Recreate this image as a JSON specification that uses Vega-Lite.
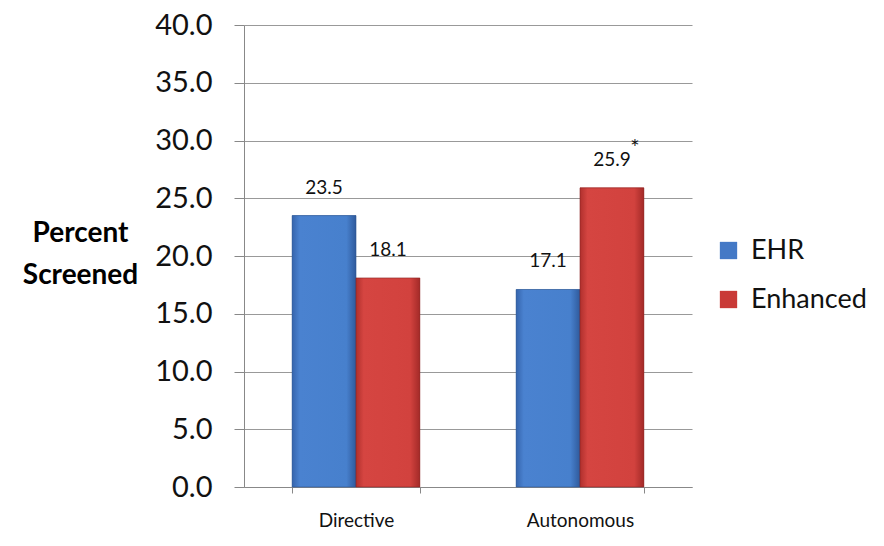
{
  "$schema": "https://vega.github.io/schema/vega-lite/v6.json",
  "autosize": {"type": "none"},
  "padding": {"left": 244, "top": 25, "right": 192, "bottom": 59},
  "width": 448,
  "height": 462,
  "background": "white",
  "config": {
    "font": "Lato",
    "view": {"stroke": null}
  },
  "data": {
    "values": [
      {"category": "Directive", "group": "EHR", "value": 23.5, "note": ""},
      {"category": "Directive", "group": "Enhanced", "value": 18.1, "note": ""},
      {"category": "Autonomous", "group": "EHR", "value": 17.1, "note": ""},
      {"category": "Autonomous", "group": "Enhanced", "value": 25.9, "note": "*"}
    ]
  },
  "encoding": {
    "x": {
      "field": "category",
      "type": "nominal",
      "sort": ["Directive", "Autonomous"],
      "scale": {"paddingInner": 0.43, "paddingOuter": 0.215},
      "axis": {
        "title": null,
        "labelAngle": 0,
        "labelFont": "Lato",
        "labelFontSize": 19,
        "labelColor": "#111",
        "labelPadding": 18,
        "tickBand": "extent",
        "tickSize": 6,
        "tickColor": "#888",
        "domainColor": "#888",
        "grid": false
      }
    },
    "xOffset": {"field": "group", "type": "nominal", "sort": ["EHR", "Enhanced"]},
    "y": {
      "field": "value",
      "type": "quantitative",
      "scale": {"domain": [0, 40], "nice": false},
      "axis": {
        "values": [0, 5, 10, 15, 20, 25, 30, 35, 40],
        "format": ".1f",
        "labelFont": "Lato",
        "labelFontSize": 29,
        "labelColor": "#111",
        "labelPadding": 22,
        "tickSize": 10,
        "tickColor": "#888",
        "domainColor": "#888",
        "gridColor": "#999",
        "grid": true,
        "title": ["Percent", "Screened"],
        "titleFont": "Lato",
        "titleFontSize": 28,
        "titleFontWeight": "bold",
        "titleColor": "#000",
        "titleAngle": 0,
        "titleAlign": "center",
        "titleBaseline": "middle",
        "titleLineHeight": 42,
        "titleX": -164,
        "titleY": 208
      }
    }
  },
  "layer": [
    {
      "mark": {"type": "bar"},
      "encoding": {
        "color": {
          "field": "group",
          "type": "nominal",
          "scale": {"domain": ["EHR", "Enhanced"], "range": ["#4479c6", "#c93a37"]},
          "legend": {
            "title": null,
            "orient": "none",
            "legendX": 471,
            "legendY": 212,
            "symbolType": "square",
            "symbolSize": 300,
            "symbolStrokeWidth": 0,
            "labelFont": "Lato",
            "labelFontSize": 27,
            "labelColor": "#111",
            "labelOffset": 9,
            "rowPadding": 21
          }
        }
      }
    },
    {
      "transform": [{"filter": "datum.group === 'EHR'"}],
      "mark": {
        "type": "bar",
        "stroke": "#2c5590",
        "strokeWidth": 0.6,
        "fill": {
          "x1": 0, "y1": 0, "x2": 1, "y2": 0,
          "gradient": "linear",
          "stops": [
            {"offset": 0, "color": "#3665ad"},
            {"offset": 0.12, "color": "#4a82d0"},
            {"offset": 0.85, "color": "#4780cd"},
            {"offset": 1, "color": "#2f5a9c"}
          ]
        }
      }
    },
    {
      "transform": [{"filter": "datum.group === 'Enhanced'"}],
      "mark": {
        "type": "bar",
        "stroke": "#8c2422",
        "strokeWidth": 0.6,
        "fill": {
          "x1": 0, "y1": 0, "x2": 1, "y2": 0,
          "gradient": "linear",
          "stops": [
            {"offset": 0, "color": "#b0302d"},
            {"offset": 0.12, "color": "#d54541"},
            {"offset": 0.85, "color": "#d2423e"},
            {"offset": 1, "color": "#a32a28"}
          ]
        }
      }
    },
    {
      "mark": {"type": "text", "font": "Lato", "fontSize": 19, "color": "#111", "baseline": "middle", "dy": -28},
      "encoding": {
        "text": {"field": "value", "type": "quantitative", "format": ".1f"}
      }
    },
    {
      "mark": {"type": "text", "font": "Lato", "fontSize": 22, "color": "#111", "baseline": "middle", "dx": 23, "dy": -40},
      "encoding": {
        "text": {"field": "note", "type": "nominal"}
      }
    }
  ]
}
